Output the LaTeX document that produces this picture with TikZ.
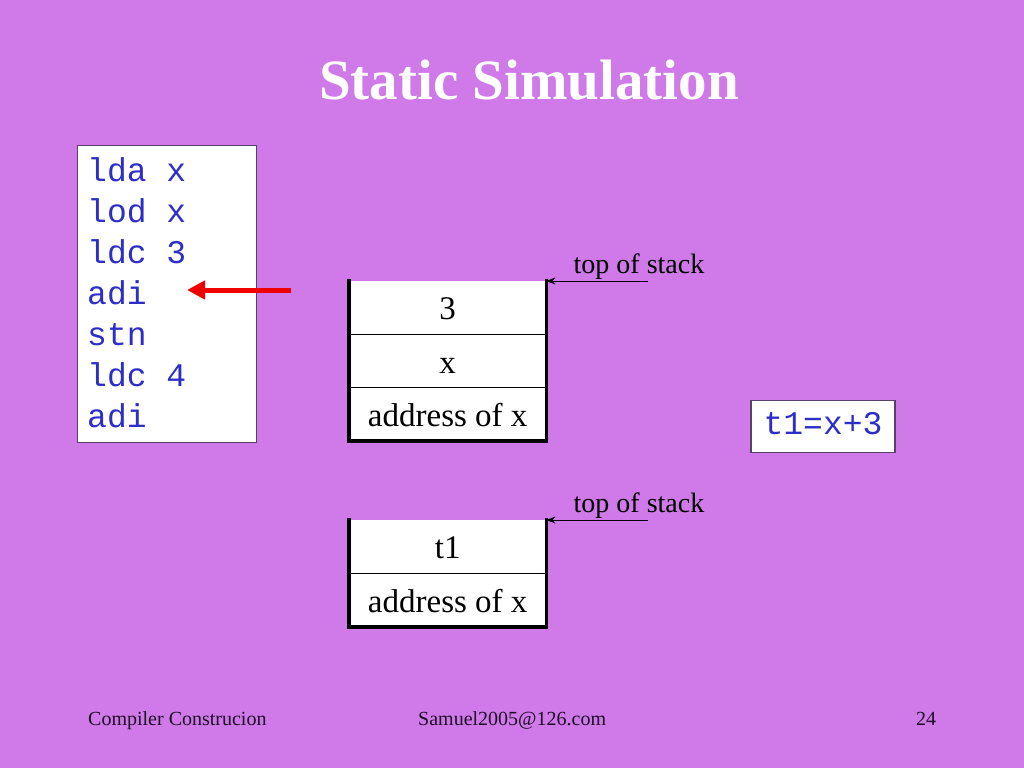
\documentclass[tikz,border=0pt]{standalone}
\usepackage{fontspec}
\setmainfont{Liberation Serif}
\newfontfamily\codefont{Liberation Mono}
\usetikzlibrary{arrows.meta}
\definecolor{bg}{RGB}{207,122,232}
\definecolor{codeblue}{RGB}{45,45,200}
\definecolor{boxline}{RGB}{85,65,105}
\definecolor{footer}{RGB}{30,10,40}
\definecolor{redarrow}{RGB}{240,0,0}
\tikzset{
  codebox/.style={draw=boxline, line width=1.2pt, fill=white, inner sep=0pt},
  codeline/.style={anchor=base west, inner sep=0pt, text=codeblue, font=\codefont\fontsize{33}{41}\selectfont},
  cell/.style={fill=white, inner sep=0pt, minimum width=197pt, minimum height=53pt,
               text height=25pt, text depth=1pt, font=\fontsize{33}{36}\selectfont},
  stackedge/.style={line width=3.5pt, line cap=rect},
  divider/.style={line width=1.3pt},
  toslabel/.style={anchor=base, inner sep=0pt, font=\fontsize{28}{30}\selectfont},
  tosarrow/.style={line width=1pt, -{Stealth[length=9pt,width=7pt]}},
  redarr/.style={draw=redarrow, line width=5pt, -{Triangle[length=18pt,width=18pt]}},
  foot/.style={anchor=base west, inner sep=0pt, text=footer, font=\fontsize{20}{22}\selectfont}
}
\begin{document}
\begin{tikzpicture}[x=1pt,y=-1pt]
\useasboundingbox (0,0) rectangle (1024,768);
\fill[bg] (0,0) rectangle (1024,768);

% title
\node[anchor=base, inner sep=0pt, text=white, font=\bfseries\fontsize{57}{60}\selectfont] (title) at (529,99) {Static Simulation};

% code box
\node[codebox, anchor=north west, minimum width=179pt, minimum height=297pt] (code) at (77,145) {};
\node[codeline] (c1) at (87,181) {lda x};
\node[codeline] (c2) at (87,222) {lod x};
\node[codeline] (c3) at (87,263) {ldc 3};
\node[codeline] (c4) at (87,304) {adi};
\node[codeline] (c5) at (87,345) {stn};
\node[codeline] (c6) at (87,386) {ldc 4};
\node[codeline] (c7) at (87,427) {adi};

% red arrow
\coordinate (redtail) at (291,290);
\coordinate (redtip) at (187,290);
\draw[redarr] (redtail) -- (redtip);

% stack 1
\node[cell, anchor=north west] (s1a) at (349,281) {3};
\node[cell, anchor=north] (s1b) at (s1a.south) {x};
\node[cell, anchor=north] (s1c) at (s1b.south) {address of x};
\draw[divider] (s1a.south west) -- (s1a.south east);
\draw[divider] (s1b.south west) -- (s1b.south east);
\draw[stackedge] (s1a.north west) -- (s1c.south west) -- (s1c.south east) -- (s1a.north east);
\node[toslabel] (tos1) at (639,273) {top of stack};
\coordinate (tos1end) at (648,281);
\draw[tosarrow] (tos1end) -- (s1a.north east);

% t1 box
\node[codebox, minimum width=144pt, minimum height=52pt, text height=20pt, text depth=5pt,
      text=codeblue, font=\codefont\fontsize{33}{36}\selectfont] (t1box) at (823,426.5) {t1=x+3};

% stack 2
\node[cell, anchor=north west] (s2a) at (349,520) {t1};
\node[cell, anchor=north] (s2b) at (s2a.south) {address of x};
\draw[divider] (s2a.south west) -- (s2a.south east);
\draw[stackedge] (s2a.north west) -- (s2b.south west) -- (s2b.south east) -- (s2a.north east);
\node[toslabel] (tos2) at (639,512) {top of stack};
\coordinate (tos2end) at (648,520);
\draw[tosarrow] (tos2end) -- (s2a.north east);

% footer
\node[foot] (f1) at (88,725) {Compiler Construcion};
\node[foot] (f2) at (418,725) {Samuel2005@126.com};
\node[foot] (f3) at (916,725) {24};
\end{tikzpicture}
\end{document}
